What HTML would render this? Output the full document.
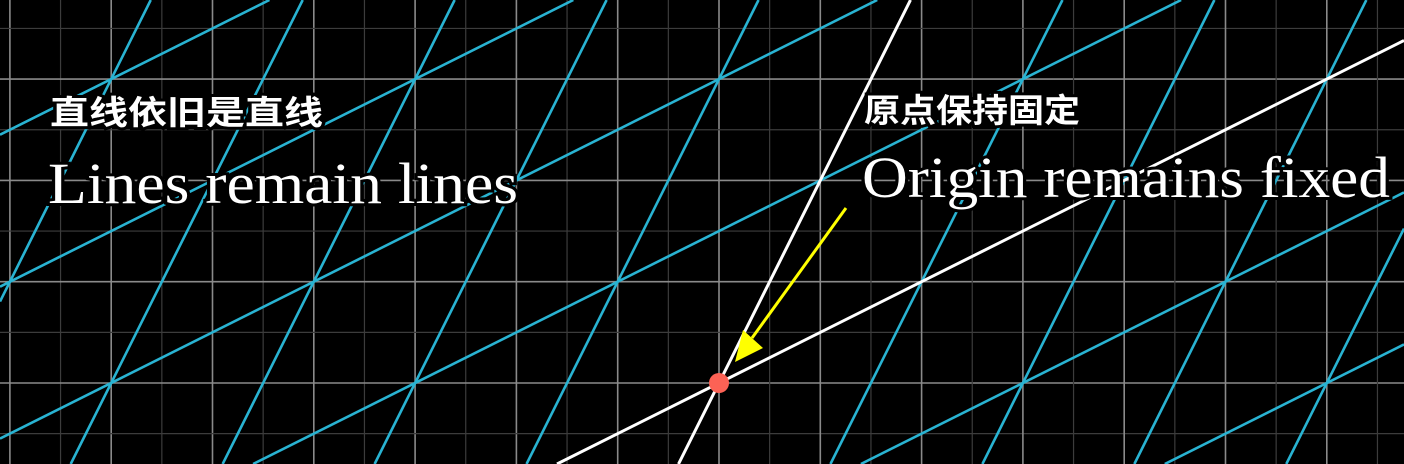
<!DOCTYPE html>
<html><head><meta charset="utf-8">
<style>
html,body{margin:0;padding:0;background:#000;width:1404px;height:464px;overflow:hidden}
svg{display:block;overflow:hidden}
.zh{font-family:"Liberation Sans","Noto Sans CJK SC",sans-serif;font-weight:bold;fill:#fff;stroke:#000;stroke-width:6;paint-order:stroke}
.en{font-family:"Liberation Serif",serif;fill:#fff;stroke:#000;stroke-width:6;paint-order:stroke}
</style></head>
<body>
<svg id="chart" width="1404" height="464" viewBox="0 0 1404 464" xmlns="http://www.w3.org/2000/svg">
  <rect width="1404" height="464" fill="#000"/>
  <g id="bg-grid"></g>
  <g id="t-grid"></g>
  <g id="axes"></g>
  <g>
    <text class="zh" x="50" y="124" font-size="33" textLength="273" lengthAdjust="spacingAndGlyphs">直线依旧是直线</text>
    <text class="en" x="48" y="203" font-size="58" textLength="470" lengthAdjust="spacingAndGlyphs">Lines remain lines</text>
  </g>
  <g>
    <text class="zh" x="864" y="122" font-size="33" textLength="216" lengthAdjust="spacingAndGlyphs">原点保持固定</text>
    <text class="en" x="862" y="197" font-size="58" textLength="528" lengthAdjust="spacingAndGlyphs">Origin remains fixed</text>
  </g>
  <g>
    <line x1="846" y1="208" x2="752" y2="338" stroke="#ffff00" stroke-width="3"/>
    <polygon points="735,362 743,330 763,348" fill="#ffff00"/>
  </g>
  <circle cx="719" cy="383" r="10" fill="#fc6255"/>
</svg>
<script>
// basis vectors after transformation (in grid units)
const iHat = [2, 1];
const jHat = [1, 2];
const lineIndices = [-12,-11,-10,-9,-8,-7,-6,-5,-4,-3,-2,-1,0,1,2,3,4,5,6,7,8,9,10,11,12];
const bgIndices = [-8,-7,-6,-5,-4,-3,-2,-1,0,1,2,3,4,5,6,7,8];

const unit = 101.3, ox = 719, oy = 383;
const W = 1404, H = 464;
const sx = v => ox + v * unit;
const sy = v => oy - v * unit;
const NS = "http://www.w3.org/2000/svg";
// clip segment to the viewport (Liang-Barsky)
function clip(x1, y1, x2, y2) {
  let t0 = 0, t1 = 1;
  const dx = x2 - x1, dy = y2 - y1;
  const p = [-dx, dx, -dy, dy], q = [x1, W - x1, y1, H - y1];
  for (let i = 0; i < 4; i++) {
    if (p[i] === 0) { if (q[i] < 0) return null; continue; }
    const r = q[i] / p[i];
    if (p[i] < 0) { if (r > t1) return null; if (r > t0) t0 = r; }
    else { if (r < t0) return null; if (r < t1) t1 = r; }
  }
  if (t1 - t0 < 1e-6) return null;
  return [x1 + t0 * dx, y1 + t0 * dy, x1 + t1 * dx, y1 + t1 * dy];
}
function mk(parent, x1, y1, x2, y2, color, w) {
  const c = clip(x1, y1, x2, y2);
  if (!c) return null;
  const l = document.createElementNS(NS, "line");
  l.setAttribute("x1", c[0].toFixed(2)); l.setAttribute("y1", c[1].toFixed(2));
  l.setAttribute("x2", c[2].toFixed(2)); l.setAttribute("y2", c[3].toFixed(2));
  l.setAttribute("stroke", color); l.setAttribute("stroke-width", w);
  parent.appendChild(l);
  return l;
}
const bg = document.getElementById("bg-grid");
bgIndices.forEach(k => {
  for (const half of [0, 0.5]) {
    const v = k + half;
    const col = half ? "#3c3c3c" : "#8a8a8a";
    const w = half ? 1.2 : 1.6;
    if (sx(v) >= 1 && sx(v) <= W - 1) {
      const a = mk(bg, sx(v), 0, sx(v), H, col, w);
      
      
    }
    if (sy(v) >= 1 && sy(v) <= H - 1) {
      const b = mk(bg, 0, sy(v), W, sy(v), col, w);
      
      
    }
  }
});
const tg = document.getElementById("t-grid");
const ax = document.getElementById("axes");
const L = 30;
lineIndices.forEach(k => {
  const p = [k * iHat[0], k * iHat[1]];
  const isAxis = k === 0;
  const g = isAxis ? ax : tg;
  const col = isAxis ? "#ffffff" : "#29b3d2";
  const w = isAxis ? 3 : 2.6;
  const l1 = mk(g, sx(p[0] - L * jHat[0]), sy(p[1] - L * jHat[1]), sx(p[0] + L * jHat[0]), sy(p[1] + L * jHat[1]), col, w);
  if (l1) {
    
    
  }
  const q = [k * jHat[0], k * jHat[1]];
  const l2 = mk(g, sx(q[0] - L * iHat[0]), sy(q[1] - L * iHat[1]), sx(q[0] + L * iHat[0]), sy(q[1] + L * iHat[1]), col, w);
  if (l2) {
    
    
  }
});
</script>
</body></html>
